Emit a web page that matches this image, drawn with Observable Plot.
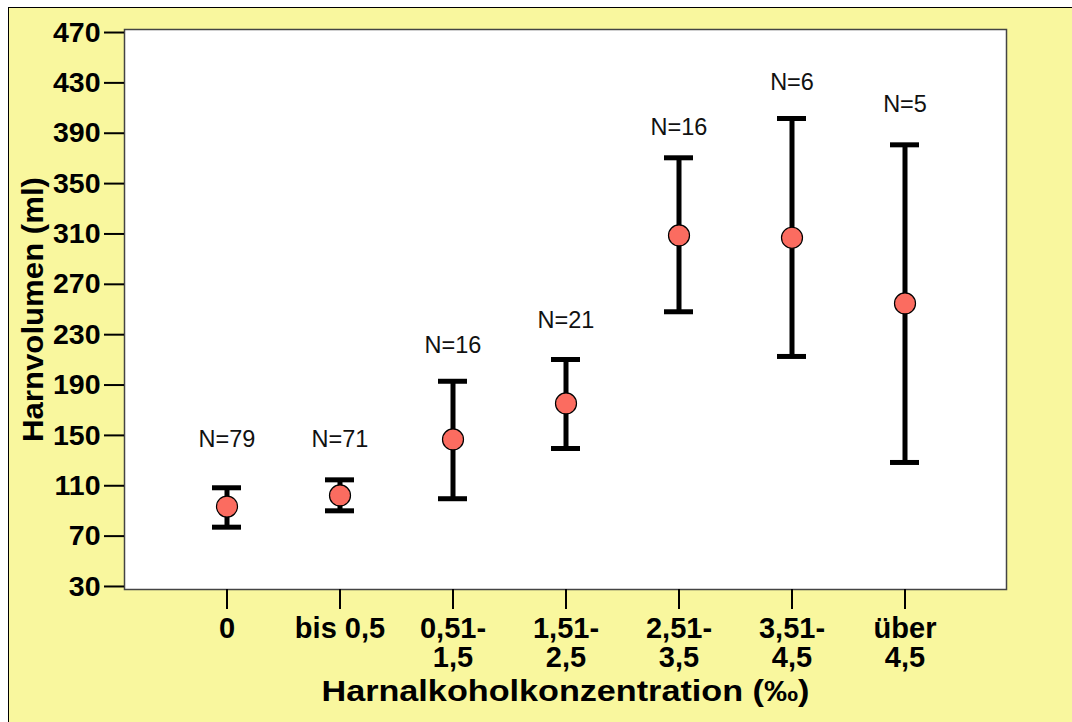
<!DOCTYPE html>
<html>
<head>
<meta charset="utf-8">
<script src="https://cdn.jsdelivr.net/npm/d3@7"></script>
<script src="https://cdn.jsdelivr.net/npm/@observablehq/plot@0.6"></script>
<style>
  html, body { margin: 0; padding: 0; background: #ffffff; }
  #panel { position: absolute; left: 8px; top: 7px; right: 0; bottom: 0;
           background: #f9f79e; border-left: 1.5px solid #000; border-top: 1.5px solid #000; }
  #chart { position: absolute; left: 0; top: 0; }
</style>
</head>
<body>
<div id="panel"></div>
<div id="chart"></div>
<script>
// ---- data ----
const categories = ["0", "bis 0,5", "0,51-1,5", "1,51-2,5", "2,51-3,5", "3,51-4,5", "über 4,5"];
const tickLabels = ["0", "bis 0,5", "0,51-\n1,5", "1,51-\n2,5", "2,51-\n3,5", "3,51-\n4,5", "über\n4,5"];
const means  = [93.5, 102.3, 146.8, 175.4, 308.8, 307.0, 254.8];
const upper  = [108.4, 114.7, 193.0, 210.3, 370.5, 401.7, 380.8];
const lower  = [77.1, 90.1, 99.7, 139.6, 248.2, 212.7, 128.5];
const counts = [79, 71, 16, 21, 16, 6, 5];
const labelAt = [146.8, 146.8, 221.4, 241.3, 394.6, 430.3, 412.8];
const yTicks = [30, 70, 110, 150, 190, 230, 270, 310, 350, 390, 430, 470];
const xTitle = "Harnalkoholkonzentration (‰)";
const yTitle = "Harnvolumen (ml)";

const rows = categories.map((c, i) => ({
  cat: c, mean: means[i], hi: upper[i], lo: lower[i], n: counts[i], ly: labelAt[i]
}));

const font = "'Liberation Sans', Arial, sans-serif";

const chart = Plot.plot({
  width: 1072,
  height: 722,
  marginLeft: 124,
  marginRight: 66,
  marginTop: 29,
  marginBottom: 133,
  style: { background: "transparent", fontFamily: font, color: "#000" },
  x: { type: "band", domain: categories, paddingInner: 0, paddingOuter: 0.4 },
  y: { domain: [27.6, 472.4] },
  marks: [
    Plot.frame({ fill: "#ffffff", stroke: "#444", strokeWidth: 1.5 }),
    Plot.axisY({ ticks: yTicks, tickSize: 20, tickPadding: 4, fontSize: 28.5, fontWeight: "bold",
                 label: null, strokeWidth: 2 }),
    Plot.axisX({ tickSize: 20, tickPadding: 7, fontSize: 29, fontWeight: "bold", lineHeight: 1.02,
                 tickFormat: d => tickLabels[categories.indexOf(d)], label: null, strokeWidth: 2 }),
    Plot.ruleX(rows, { x: "cat", y1: "lo", y2: "hi", stroke: "#000", strokeWidth: 5 }),
    Plot.tickY(rows, { x: "cat", y: "hi", stroke: "#000", strokeWidth: 5, insetLeft: 42, insetRight: 42 }),
    Plot.tickY(rows, { x: "cat", y: "lo", stroke: "#000", strokeWidth: 5, insetLeft: 42, insetRight: 42 }),
    Plot.dot(rows, { x: "cat", y: "mean", r: 10.5, fill: "#fb6c60", stroke: "#000", strokeWidth: 1.2 }),
    Plot.text(rows, { x: "cat", y: "ly", text: d => `N=${d.n}`, fontSize: 23.5, fill: "#111" }),
    Plot.text([xTitle], { frameAnchor: "bottom", dy: 111, fontSize: 30, fontWeight: "bold" }),
    Plot.text([yTitle], { frameAnchor: "left", textAnchor: "middle", dx: -91, rotate: -90,
                          fontSize: 30, fontWeight: "bold" })
  ]
});
// stretch the two titles to the width they have in the reference
d3.select(chart).selectAll("text").each(function () {
  const t = this.textContent;
  if (t === xTitle) d3.select(this).attr("textLength", 488).attr("lengthAdjust", "spacingAndGlyphs");
  if (t === yTitle) d3.select(this).attr("textLength", 265).attr("lengthAdjust", "spacingAndGlyphs");
});
document.getElementById("chart").appendChild(chart);
</script>
</body>
</html>
